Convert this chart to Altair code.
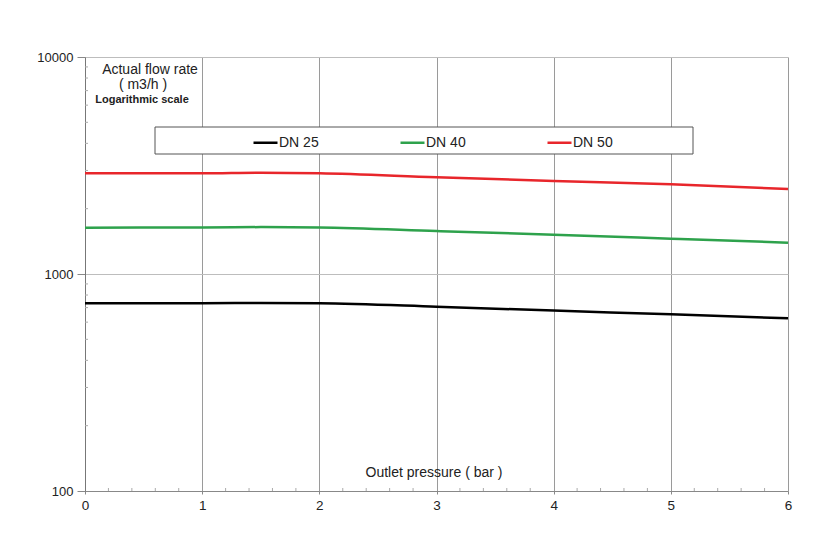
import altair as alt
import pandas as pd

# ---- data ----
pressure = [0, 1, 1.5, 2, 3, 4, 5, 6]
dn25 = [733, 733, 736, 733, 707, 678, 652, 625]
dn40 = [1635, 1638, 1645, 1638, 1578, 1517, 1455, 1394]
dn50 = [2911, 2911, 2930, 2911, 2790, 2683, 2591, 2465]
series_names = ["DN 25", "DN 40", "DN 50"]
series_colors = ["#000000", "#2ea24c", "#e8262b"]
x_ticks = [0, 1, 2, 3, 4, 5, 6]
y_ticks = [100, 1000, 10000]
x_minor = [0.2, 0.4, 0.6, 0.8, 1.2, 1.4, 1.6, 1.8, 2.2, 2.4, 2.6, 2.8,
           3.2, 3.4, 3.6, 3.8, 4.2, 4.4, 4.6, 4.8, 5.2, 5.4, 5.6, 5.8]
y_minor = [200, 300, 400, 500, 600, 700, 800, 900,
           2000, 3000, 4000, 5000, 6000, 7000, 8000, 9000]

W, H = 703, 434
FONT = "Liberation Sans"
TXT = "#222222"

rows = []
for name, vals in zip(series_names, [dn25, dn40, dn50]):
    for p, v in zip(pressure, vals):
        rows.append({"pressure": p, "flow": v, "series": name})
df = pd.DataFrame(rows)

xscale = alt.Scale(domain=[0, 6], nice=False, zero=False)
yscale = alt.Scale(type="log", domain=[100, 10000], nice=False)

lines = alt.Chart(df).mark_line(strokeWidth=2.5, interpolate="monotone").encode(
    x=alt.X("pressure:Q", scale=xscale,
            axis=alt.Axis(values=x_ticks, title=None, grid=True, gridColor="#9a9a9a",
                          gridOpacity=1, domainColor="#888888", tickColor="#888888",
                          tickSize=3, labelPadding=4, labelFontSize=13.5, labelColor=TXT,
                          labelFont=FONT, format="d", labelFlush=False)),
    y=alt.Y("flow:Q", scale=yscale,
            axis=alt.Axis(values=y_ticks, title=None, grid=True, gridColor="#bdbdbd",
                          gridOpacity=1, domainColor="#777777", tickColor="#888888",
                          tickSize=8, labelPadding=4, labelFontSize=13, labelColor=TXT,
                          labelFont=FONT, format="d", labelFlush=False)),
    color=alt.Color("series:N",
                    scale=alt.Scale(domain=series_names, range=series_colors),
                    legend=alt.Legend(orient="none", legendX=167, legendY=72,
                                      direction="horizontal", title=None,
                                      symbolType="stroke", symbolSize=576,
                                      symbolStrokeWidth=2.5, labelOffset=0,
                                      labelFontSize=14, labelFont=FONT, labelColor=TXT,
                                      columnPadding=76, padding=0)),
)

ymin_df = pd.DataFrame({"v": y_minor})
ymin = alt.Chart(ymin_df).mark_rule(color="#aaaaaa", strokeWidth=1).encode(
    y=alt.Y("v:Q", scale=yscale), x=alt.value(0), x2=alt.value(3))

xmin_df = pd.DataFrame({"v": x_minor})
xmin = alt.Chart(xmin_df).mark_rule(color="#aaaaaa", strokeWidth=1).encode(
    x=alt.X("v:Q", scale=xscale), y=alt.value(H), y2=alt.value(H - 3))

one = pd.DataFrame({"k": [0]})
legend_box = alt.Chart(one).mark_rect(fill="white", stroke="#555555", strokeWidth=1).encode(
    x=alt.value(70), x2=alt.value(608), y=alt.value(70), y2=alt.value(97))


def label(text, x, y, size=14, weight="normal"):
    return alt.Chart(one).mark_text(fontSize=size, font=FONT, color=TXT,
                                    fontWeight=weight, align="center",
                                    baseline="middle").encode(
        x=alt.value(x), y=alt.value(y), text=alt.value(text))


chart = alt.layer(
    ymin, xmin, legend_box, lines,
    label("Actual flow rate", 65, 13),
    label("( m3/h )", 58, 28),
    label("Logarithmic scale", 57, 43, size=11, weight="bold"),
    label("Outlet pressure ( bar )", 349, 416),
).properties(
    width=W, height=H,
    autosize=alt.AutoSizeParams(type="none"),
    padding={"left": 77, "top": 49, "right": 42, "bottom": 34},
).configure_view(strokeWidth=0)

chart.save("out.html", embed_options={"renderer": "svg", "actions": False})
